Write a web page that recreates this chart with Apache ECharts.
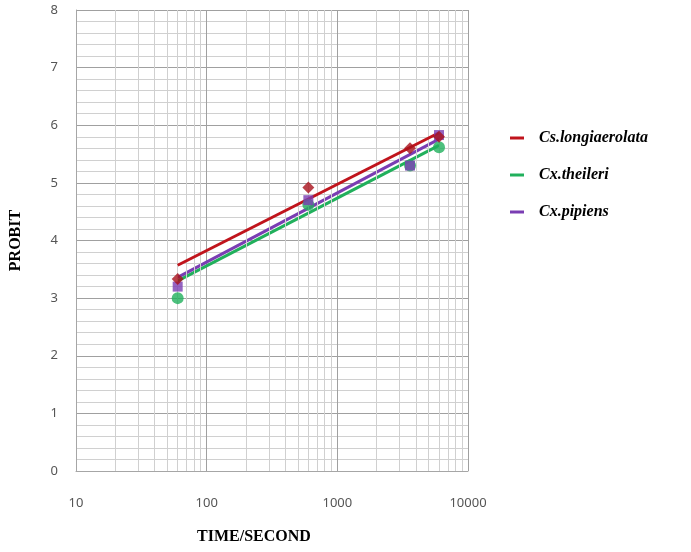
<!DOCTYPE html>
<html>
<head>
<meta charset="utf-8">
<script src="https://cdn.jsdelivr.net/npm/echarts@6/dist/echarts.min.js"></script>
<style>html,body{margin:0;padding:0;background:#fff;}#c{width:691px;height:552px;}</style>
</head>
<body>
<div id="c"></div>
<script>
var seriesNames = ['Cs.longiaerolata', 'Cx.theileri', 'Cx.pipiens'];
var times = [60, 600, 3600, 6000];
var csPoints = [3.33, 4.92, 5.60, 5.80];
var thPoints = [3.00, 4.62, 5.30, 5.62];
var ppPoints = [3.20, 4.70, 5.30, 5.83];
var trendTimes = [60, 6000];
var csTrend = [3.57, 5.87];
var thTrend = [3.30, 5.65];
var ppTrend = [3.36, 5.76];
var xTicks = [10, 100, 1000, 10000];
var minorX = [];
for (var d = 0; d < 3; d++) { for (var m = 2; m <= 9; m++) { minorX.push(m * xTicks[d]); } }

function pairs(xs, ys) { return xs.map(function (x, i) { return [x, ys[i]]; }); }

var colors = { red: '#c0141c', green: '#21b05c', purple: '#7a3db3' };

var chart = echarts.init(document.getElementById('c'));
chart.setOption({
  animation: false,
  grid: { left: 74, right: 223, top: 10, bottom: 81 },
  legend: {
    orient: 'vertical', left: 505, top: 125, itemGap: 21,
    itemWidth: 14, itemHeight: 3, icon: 'rect',
    lineStyle: { opacity: 0 },
    itemStyle: { borderWidth: 0 },
    data: seriesNames,
    textStyle: { fontFamily: 'Liberation Serif', fontWeight: 'bold', fontStyle: 'italic', fontSize: 16, color: '#000', padding: [0, 0, 0, 10] }
  },
  xAxis: {
    type: 'log', logBase: 10, min: 10, max: 10000,
    name: 'TIME/SECOND', nameLocation: 'middle', nameGap: 58,
    nameTextStyle: { fontFamily: 'Liberation Serif', fontWeight: 'bold', fontSize: 16, color: '#000', padding: [0, 36, 0, 0] },
    axisLine: { lineStyle: { color: '#a6a6a6' } },
    axisTick: { show: false },
    axisLabel: { margin: 26, color: '#555', fontFamily: 'Noto Sans', fontSize: 13, formatter: function (v) { return String(Math.round(v)); } },
    splitLine: { show: true, lineStyle: { color: '#a0a0a0', width: 1 } }
  },
  yAxis: {
    type: 'value', min: 0, max: 8, interval: 1,
    name: 'PROBIT', nameLocation: 'middle', nameGap: 52,
    nameTextStyle: { fontFamily: 'Liberation Serif', fontWeight: 'bold', fontSize: 16, color: '#000' },
    axisLine: { show: true, lineStyle: { color: '#a6a6a6' } },
    axisTick: { show: false },
    axisLabel: { margin: 18, color: '#555', fontFamily: 'Noto Sans', fontSize: 13 },
    splitLine: { show: true, lineStyle: { color: '#a0a0a0', width: 1 } },
    minorTick: { show: false, splitNumber: 5 },
    minorSplitLine: { show: true, lineStyle: { color: '#d0d0d0', width: 1 } }
  },
  series: [
    {
      name: 'grid', type: 'line', data: [], z: 0, silent: true,
      markLine: {
        silent: true, symbol: 'none', animation: false,
        label: { show: false },
        lineStyle: { color: '#d0d0d0', width: 1, type: 'solid' },
        data: minorX.map(function (v) { return { xAxis: v }; })
      }
    },
    {
      name: seriesNames[1], type: 'line', data: pairs(trendTimes, thTrend), showSymbol: false, symbol: 'none',
      lineStyle: { color: colors.green, width: 3 }, itemStyle: { color: colors.green }, z: 3
    },
    {
      name: seriesNames[2], type: 'line', data: pairs(trendTimes, ppTrend), showSymbol: false, symbol: 'none',
      lineStyle: { color: colors.purple, width: 3 }, itemStyle: { color: colors.purple }, z: 4
    },
    {
      name: seriesNames[0], type: 'line', data: pairs(trendTimes, csTrend), showSymbol: false, symbol: 'none',
      lineStyle: { color: colors.red, width: 3 }, itemStyle: { color: colors.red }, z: 5
    },
    {
      name: 'thPts', type: 'scatter', data: pairs(times, thPoints), symbol: 'circle', symbolSize: 12,
      itemStyle: { color: colors.green }, z: 6
    },
    {
      name: 'ppPts', type: 'scatter', data: pairs(times, ppPoints), symbol: 'rect', symbolSize: 10,
      itemStyle: { color: colors.purple }, z: 7
    },
    {
      name: 'csPts', type: 'scatter', data: pairs(times, csPoints), symbol: 'diamond', symbolSize: 12,
      itemStyle: { color: '#a8101a' }, z: 8
    }
  ]
});
</script>
</body>
</html>
